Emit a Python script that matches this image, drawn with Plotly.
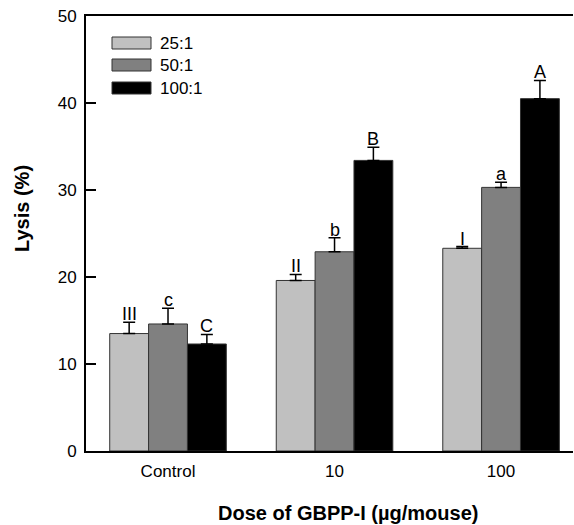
import plotly.graph_objects as go

categories = ["Control", "10", "100"]
series_names = ["25:1", "50:1", "100:1"]
vals_25 = [13.5, 19.6, 23.3]
vals_50 = [14.6, 22.9, 30.3]
vals_100 = [12.3, 33.4, 40.5]
err_25 = [1.3, 0.7, 0.2]
err_50 = [1.8, 1.6, 0.6]
err_100 = [1.1, 1.5, 2.1]
lab_25 = ["III", "II", "I"]
lab_50 = ["c", "b", "a"]
lab_100 = ["C", "B", "A"]
colors = ["#c0c0c0", "#808080", "#000000"]
y_ticks = [0, 10, 20, 30, 40, 50]

FONT = "Liberation Sans, Arial, sans-serif"
W, H = 574, 525
L, R, T, B = 86, 1, 16, 74
pw, ph = W - L - R, H - T - B

def px(xp):
    return (xp - L) / pw

def py(yp):
    return (H - B - yp) / ph

xs = list(range(len(categories)))
fig = go.Figure()
series = [(vals_25, err_25, lab_25), (vals_50, err_50, lab_50), (vals_100, err_100, lab_100)]
bw = 0.7 / 3
for i, (v, e, lab) in enumerate(series):
    fig.add_trace(go.Bar(
        x=xs, y=v, name=series_names[i],
        marker=dict(color=colors[i], line=dict(color="#333333", width=1)),
        error_y=dict(type="data", array=e, arrayminus=[0] * len(e), symmetric=False,
                     color="black", thickness=1.5, width=6),
        showlegend=False,
    ))
    for j in range(len(xs)):
        fig.add_annotation(x=xs[j] + (i - 1) * bw, y=v[j] + e[j], text=lab[j],
                           showarrow=False, yanchor="bottom", yshift=-4,
                           font=dict(family=FONT, size=18, color="black"))

# custom legend
rows = [43, 65, 88]
for i, name in enumerate(series_names):
    fig.add_shape(type="rect", xref="paper", yref="paper",
                  x0=px(112), x1=px(151), y0=py(rows[i] + 6), y1=py(rows[i] - 6),
                  fillcolor=colors[i], line=dict(color="#333333", width=1))
    fig.add_annotation(xref="paper", yref="paper", x=px(158), y=py(rows[i]),
                       text=name, showarrow=False, xanchor="left", yanchor="middle",
                       font=dict(family=FONT, size=17, color="black"))

fig.add_annotation(xref="paper", yref="paper", x=px(348), y=py(513),
                   text="<b>Dose of GBPP-I (µg/mouse)</b>", showarrow=False,
                   xanchor="center", yanchor="middle",
                   font=dict(family=FONT, size=20, color="black"))
fig.add_annotation(xref="paper", yref="paper", x=px(22), y=py(209),
                   text="<b>Lysis (%)</b>", showarrow=False, textangle=-90,
                   xanchor="center", yanchor="middle",
                   font=dict(family=FONT, size=20, color="black"))

fig.update_layout(
    width=W, height=H, margin=dict(l=L, r=R, t=T, b=B),
    paper_bgcolor="white", plot_bgcolor="white",
    barmode="group", bargap=0.3, bargroupgap=0,
    font=dict(family=FONT, size=17, color="black"),
    xaxis=dict(range=[-0.4925, 2.432], tickvals=xs, ticktext=categories,
               showline=True, linecolor="black", linewidth=2, mirror=True,
               ticks="", showgrid=False, zeroline=False, ticklabelstandoff=4,
               tickfont=dict(family=FONT, size=17, color="black")),
    yaxis=dict(range=[0, 50], tickvals=y_ticks, showline=True, linecolor="black",
               linewidth=2, ticks="inside", ticklen=10, tickwidth=2, tickcolor="black",
               showgrid=False, zeroline=False, ticklabelstandoff=4,
               tickfont=dict(family=FONT, size=17, color="black")),
)
fig.write_html("out.html", config={"displayModeBar": False},
               post_script="document.body.style.margin='0';document.body.style.overflow='hidden';")
